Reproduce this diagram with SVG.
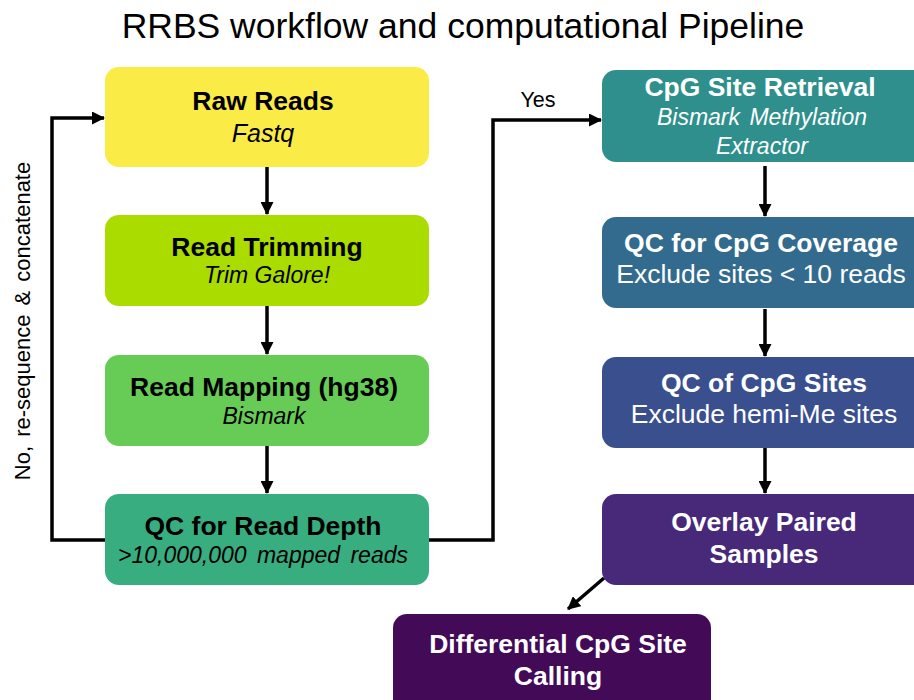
<svg xmlns="http://www.w3.org/2000/svg" width="914" height="700" viewBox="0 0 914 700">
<style>
text{font-family:"Liberation Sans",Arial,sans-serif;text-anchor:middle}
.t{font-size:26.5px;font-weight:bold}
.s{font-size:23px;font-style:italic}
.n{font-size:26.5px}
.w{fill:#fff}
.c{stroke:#000;stroke-width:3.5;fill:none}
</style>
<defs>
<marker id="ah" markerWidth="13" markerHeight="13" refX="12" refY="6.5" orient="auto" markerUnits="userSpaceOnUse" viewBox="0 0 13 13">
<path d="M0,0 L13,6.5 L0,13 z" fill="#000"/>
</marker>
</defs>
<rect width="914" height="700" fill="#fff"/>
<text x="463" y="38" font-size="35.5">RRBS workflow and computational Pipeline</text>

<g id="connectors">
<path class="c" d="M267,167 V214" marker-end="url(#ah)"/>
<path class="c" d="M267,306 V354" marker-end="url(#ah)"/>
<path class="c" d="M267,446 V493" marker-end="url(#ah)"/>
<path class="c" d="M105,540 H52 V118 H104" marker-end="url(#ah)"/>
<path class="c" d="M429,540 H493 V120 H601" marker-end="url(#ah)"/>
<path class="c" d="M765,166 V216" marker-end="url(#ah)"/>
<path class="c" d="M765,309 V356" marker-end="url(#ah)"/>
<path class="c" d="M765,448 V493" marker-end="url(#ah)"/>
<path class="c" d="M604,578 L568,609" marker-end="url(#ah)"/>
<text x="538" y="107" font-size="21.5">Yes</text>
<text transform="translate(30,321) rotate(-90)" font-size="22" style="word-spacing:3px">No, re-sequence &amp; concatenate</text>
</g>

<g id="raw">
<rect x="105" y="67" width="324" height="100" rx="14" fill="#FAEB46"/>
<text class="t" x="263" y="110">Raw Reads</text>
<text class="s" x="263" y="142" style="font-size:25px">Fastq</text>
</g>
<g id="trim">
<rect x="105" y="215" width="324" height="91" rx="14" fill="#AADC00"/>
<text class="t" x="267" y="256">Read Trimming</text>
<text class="s" x="267" y="283">Trim Galore!</text>
</g>
<g id="map">
<rect x="105" y="355" width="324" height="91" rx="14" fill="#66CC55"/>
<text class="t" x="264" y="396">Read Mapping (hg38)</text>
<text class="s" x="264" y="424">Bismark</text>
</g>
<g id="qcdepth">
<rect x="105" y="494" width="324" height="91" rx="14" fill="#38AE80"/>
<text class="t" x="263" y="535">QC for Read Depth</text>
<text class="s" x="263" y="563" style="word-spacing:4px">&gt;10,000,000 mapped reads</text>
</g>

<g id="cpgret">
<rect x="602" y="70" width="330" height="92" rx="14" fill="#2E8F8C"/>
<text class="t w" x="760" y="96">CpG Site Retrieval</text>
<text class="s w" x="762" y="125" style="word-spacing:3px">Bismark Methylation</text>
<text class="s w" x="762" y="154">Extractor</text>
</g>
<g id="qccov">
<rect x="602" y="217" width="330" height="91" rx="14" fill="#336B8E"/>
<text class="t w" x="761" y="252">QC for CpG Coverage</text>
<text class="n w" x="761" y="283">Exclude sites &lt; 10 reads</text>
</g>
<g id="qcsites">
<rect x="602" y="357" width="330" height="91" rx="14" fill="#3A4F8E"/>
<text class="t w" x="764" y="392">QC of CpG Sites</text>
<text class="n w" x="764" y="423">Exclude hemi-Me sites</text>
</g>
<g id="overlay">
<rect x="602" y="494" width="330" height="91" rx="14" fill="#472879"/>
<text class="t w" x="764" y="531">Overlay Paired</text>
<text class="t w" x="764" y="563">Samples</text>
</g>
<g id="diff">
<rect x="393" y="614" width="318" height="100" rx="14" fill="#430A57"/>
<text class="t w" x="558" y="653">Differential CpG Site</text>
<text class="t w" x="558" y="685">Calling</text>
</g>
</svg>
